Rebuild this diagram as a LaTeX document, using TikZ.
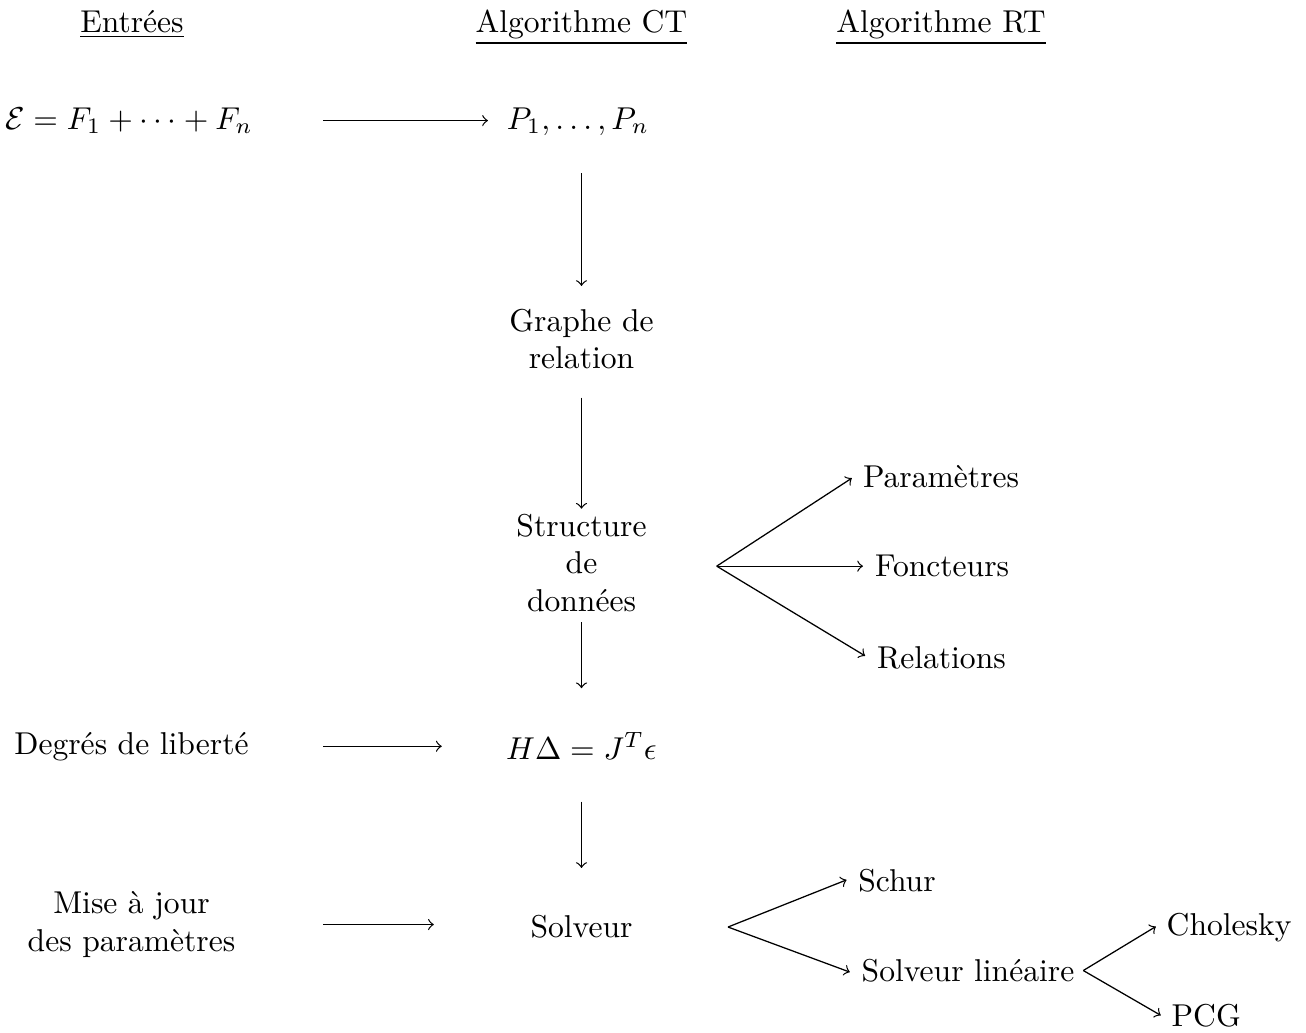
\documentclass[tikz,border=0pt]{standalone}
\usepackage{fontspec}
\usetikzlibrary{calc}
\begin{document}
\begin{tikzpicture}[x=0.3165pt,y=-0.3165pt,
  every node/.style={inner sep=0pt,outer sep=0pt},
  arr/.style={->,line width=0.4pt}]
\useasboundingbox (0,0) rectangle (1306,1032);
% headers
\node[anchor=base] (hE) at (132,32) {\underline{Entrées}};
\node[anchor=base] (hCT) at (581.5,32) {\underline{Algorithme CT}};
\node[anchor=base] (hRT) at (941,32) {\underline{Algorithme RT}};
% left column
\node[anchor=base] (E) at (129,129) {$\mathcal{E} = F_1 + \cdots + F_n$};
\node[anchor=base] (D) at (131.5,754) {Degrés de liberté};
\node[align=center] (M) at (131.5,924.5) {Mise à jour\\des paramètres};
% centre column
\node[anchor=base] (P) at (578,129) {$P_1, \ldots, P_n$};
\node[align=center] (G) at (581.5,339) {Graphe de\\relation};
\node[align=center] (S) at (581.5,563) {Structure\\de\\données};
\node[anchor=base] (H) at (581.5,759) {$H\Delta = J^T\epsilon$};
\node[anchor=base] (Sv) at (581.5,937) {Solveur};
% right column
\node[anchor=base west] (par) at (863,487.3) {Paramètres};
\node[anchor=base west] (fon) at (875,576.7) {Foncteurs};
\node[anchor=base west] (rel) at (877,668) {Relations};
\node[anchor=base west] (schur) at (858.3,891.7) {Schur};
\node[anchor=base west] (sl) at (861.7,981.5) {Solveur linéaire};
\node[anchor=base west] (chol) at (1166.7,935) {Cholesky};
\node[anchor=base west] (pcg) at (1171.7,1026.7) {PCG};
% fan origins
\coordinate (f1x) at (716.7,566);
\coordinate (f1) at (f1x |- fon.west);
\coordinate (f2) at (728,927);
\coordinate (f3) at (1083.3,970.5);
% horizontal arrows
\draw[arr, shorten <=22.2pt, shorten >=6pt] (E.east) -- (E.east -| P.west);
\draw[arr, shorten <=23.6pt, shorten >=20.4pt] (D.east) -- (D.east -| H.west);
\draw[arr, shorten <=27.8pt, shorten >=30.6pt] (M.east) -- (M.east -| Sv.west);
% vertical arrows
\draw[arr, shorten <=12.1pt, shorten >=7.2pt] (P.south -| G.north) -- (G.north);
\draw[arr, shorten <=9pt, shorten >=1.6pt] (G.south) -- (S.north);
\draw[arr, shorten <=3.1pt, shorten >=14pt] (S.south) -- (H.north);
\draw[arr, shorten <=13.5pt, shorten >=14.8pt] (H.south) -- (Sv.north);
% fans
\draw[arr, shorten >=4.2pt] (f1) -- ($(par.west)!.5!(par.north west)$);
\draw[arr, shorten >=3.8pt] (f1) -- (fon.west);
\draw[arr, shorten >=4.4pt] (f1) -- ($(rel.west)!.5!(rel.south west)$);
\draw[arr, shorten >=4pt] (f2) -- ($(schur.west)!.5!(schur.north west)$);
\draw[arr, shorten >=4pt] (f2) -- ($(sl.west)!.5!(sl.south west)$);
\draw[arr, shorten >=4pt] (f3) -- ($(chol.west)!.5!(chol.north west)$);
\draw[arr, shorten >=4pt] (f3) -- ($(pcg.west)!.5!(pcg.south west)$);
\end{tikzpicture}
\end{document}
